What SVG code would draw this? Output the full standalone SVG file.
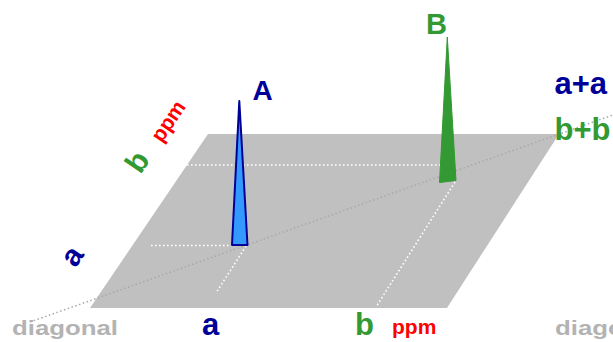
<svg xmlns="http://www.w3.org/2000/svg" width="613" height="342" viewBox="0 0 613 342">
<style>
text{font-family:"Liberation Sans",Arial,sans-serif;font-weight:bold}
.blue{fill:#000099}
.green{fill:#339933}
.red{fill:#ff0000}
.gray{fill:#b3b3b3}
.wdot{stroke:#ffffff;stroke-width:1.6;stroke-dasharray:1.6 2.4;fill:none}
.gdot{stroke:#a8a8a8;stroke-width:1.5;stroke-dasharray:1.5 2.5;fill:none}
</style>
<rect width="613" height="342" fill="#ffffff"/>
<g id="plane">
<polygon points="90,308 208,134 559,134 447,308" fill="#c0c0c0"/>
</g>
<g id="connectors">
<line class="wdot" x1="187" y1="165" x2="440" y2="165"/>
<line class="wdot" x1="151" y1="245.5" x2="232" y2="245.5"/>
<line class="wdot" x1="246" y1="246" x2="216" y2="293"/>
<line class="wdot" x1="455" y1="182" x2="376" y2="307"/>
<line class="gdot" x1="30" y1="322" x2="613" y2="115"/>
</g>
<g id="peakA">
<polygon points="239.3,101 247.5,245 232,245" fill="#3399ff" stroke="#000099" stroke-width="2" stroke-linejoin="round"/>
<text class="blue" x="252.5" y="99.5" font-size="28">A</text>
</g>
<g id="peakB">
<polygon points="447.3,37 456,180.5 439.5,182.5" fill="#339933" stroke="#339933" stroke-width="1"/>
<text class="green" x="426" y="34" font-size="29">B</text>
</g>
<g id="axis-left">
<text transform="translate(140.5,175) rotate(-56)" font-size="30"><tspan class="green">b</tspan><tspan class="red" x="38" font-size="21">ppm</tspan></text>
<text class="blue" transform="translate(75.5,268.5) rotate(-56)" font-size="30">a</text>
</g>
<g id="axis-bottom">
<text class="blue" x="202" y="334.5" font-size="31">a</text>
<text class="green" x="355" y="335" font-size="31">b</text>
<text class="red" x="392" y="333.5" font-size="21">ppm</text>
</g>
<g id="diagonal-labels">
<text class="gray" x="12" y="335" font-size="21" textLength="106" lengthAdjust="spacingAndGlyphs">diagonal</text>
<text class="gray" x="555" y="335" font-size="21" textLength="106" lengthAdjust="spacingAndGlyphs">diagonal</text>
<text class="blue" x="554.5" y="93.5" font-size="31">a+a</text>
<text class="green" x="554.5" y="140" font-size="31">b+b</text>
</g>
</svg>
